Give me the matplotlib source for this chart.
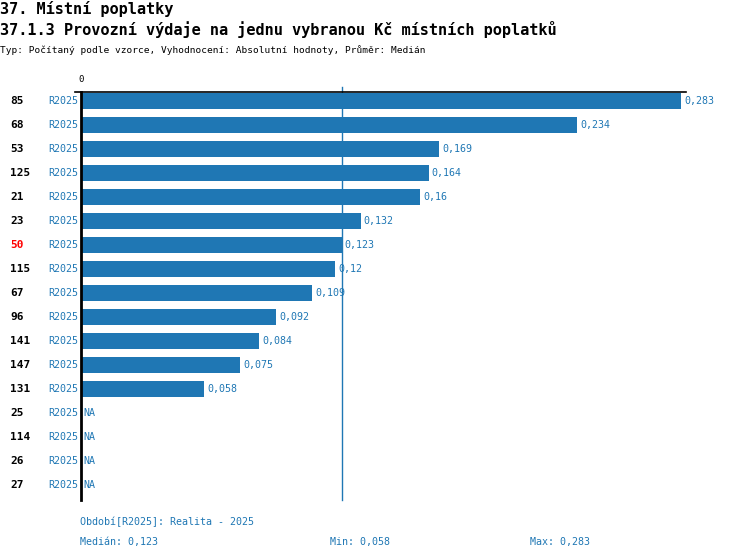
import matplotlib
matplotlib.use("Agg")
import matplotlib.pyplot as plt
from matplotlib.transforms import blended_transform_factory

# data
ids = ["85", "68", "53", "125", "21", "23", "50", "115", "67", "96", "141", "147", "131", "25", "114", "26", "27"]
values = [0.283, 0.234, 0.169, 0.164, 0.16, 0.132, 0.123, 0.12, 0.109, 0.092, 0.084, 0.075, 0.058,
          None, None, None, None]
period = "R2025"
highlight = "50"
median = 0.123
vmin = 0.058
vmax = 0.283

blue = "#1f77b4"
plt.rcParams['font.family'] = ['DejaVu Sans Mono', 'DejaVu Sans']

W, H = 750, 560
fig = plt.figure(figsize=(7.5, 5.6), dpi=100)

# axes in pixel terms: left 81, top 92, bottom 500
ax_left, ax_top, ax_bot = 81, 92, 500
ax = fig.add_axes([ax_left / W, 1 - ax_bot / H, (W - ax_left) / W, (ax_bot - ax_top) / H])
px_per_unit = 2120.0
ax.set_xlim(0, (W - ax_left) / px_per_unit)
n = len(ids)
ax.set_ylim(n - 1 + 0.625, -0.375)

ypos = list(range(n))
bar_vals = [v if v is not None else 0 for v in values]
ax.barh(ypos, bar_vals, height=0.63, color=blue, zorder=2)

# median line, sticking out a bit above the top line
ax.axvline(median, ymin=0, ymax=1 + 5 / (ax_bot - ax_top), color=blue, lw=1, zorder=1, clip_on=False)

for sp in ['right', 'bottom']:
    ax.spines[sp].set_visible(False)
ax.spines['left'].set_linewidth(2)
ax.spines['left'].set_color('black')
ax.spines['top'].set_linewidth(1.2)
ax.spines['top'].set_bounds(-6 / px_per_unit, vmax + 5 / px_per_unit)
ax.set_xticks([])
ax.set_yticks([])

# value labels
for y, v in zip(ypos, values):
    if v is None:
        ax.text(2 / px_per_unit, y, "NA", color=blue, fontsize=7.2, va='center', ha='left')
    else:
        ax.text(v + 3 / px_per_unit, y, str(v).replace('.', ','), color=blue, fontsize=7.2,
                va='center', ha='left')

# row labels
tr = blended_transform_factory(fig.transFigure, ax.transData)
for y, lab in zip(ypos, ids):
    fig.text(10 / W, y, lab, transform=tr, fontsize=8, fontweight='bold', va='center', ha='left',
             color='red' if lab == highlight else 'black')
    fig.text(78 / W, y, period, transform=tr, fontsize=7.2, va='center', ha='right', color=blue)

# zero tick label
fig.text(81 / W, 1 - 80 / H, "0", fontsize=6.5, ha='center', va='center', color='black')

# header
fig.text(0, 1 - 9 / H, "37. Místní poplatky", fontsize=11, fontweight='bold', va='center', ha='left')
fig.text(0, 1 - 30 / H, "37.1.3 Provozní výdaje na jednu vybranou Kč místních poplatků",
         fontsize=11, fontweight='bold', va='center', ha='left')
fig.text(0, 1 - 50 / H, "Typ: Počítaný podle vzorce, Vyhodnocení: Absolutní hodnoty, Průměr: Medián",
         fontsize=6.8, va='center', ha='left')

# footer
fig.text(80 / W, 1 - 522 / H, "Období[R2025]: Realita - 2025", fontsize=7.2, color=blue, va='center')
fig.text(80 / W, 1 - 542 / H, "Medián: " + str(median).replace('.', ','), fontsize=7.2, color=blue, va='center')
fig.text(330 / W, 1 - 542 / H, "Min: " + str(vmin).replace('.', ','), fontsize=7.2, color=blue, va='center')
fig.text(530 / W, 1 - 542 / H, "Max: " + str(vmax).replace('.', ','), fontsize=7.2, color=blue, va='center')

fig.savefig("out.png", dpi=100)
